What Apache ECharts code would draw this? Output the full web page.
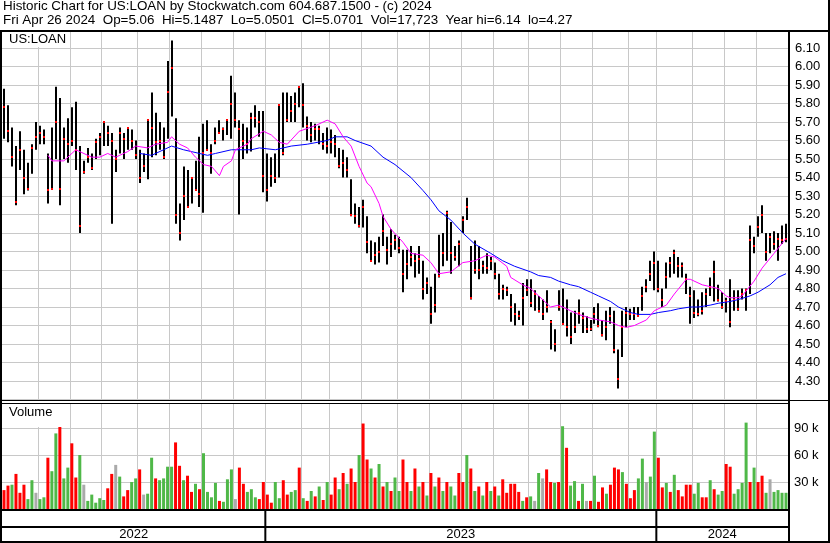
<!DOCTYPE html>
<html>
<head>
<meta charset="utf-8">
<script src="https://cdn.jsdelivr.net/npm/echarts@6/dist/echarts.min.js"></script>
<style>
html, body { margin: 0; padding: 0; background: #fff; }
#chart { width: 830px; height: 543px; }
</style>
</head>
<body>
<div id="chart"></div>
<script>
// daily bars, thinned to one bar per ~2.6 trading days (May 2022 - Apr 26 2024)
var highs = [
5.88,5.79,5.67,5.57,5.65,5.55,5.48,5.58,5.70,5.68,
5.66,5.53,5.67,5.89,5.83,5.67,5.72,5.78,5.81,5.57,
5.49,5.56,5.53,5.61,5.64,5.70,5.68,5.64,5.55,5.67,
5.64,5.67,5.66,5.60,5.55,5.53,5.71,5.86,5.75,5.70,
5.67,6.03,6.14,5.72,5.26,5.46,5.44,5.40,5.49,5.62,
5.69,5.71,5.58,5.67,5.71,5.67,5.71,5.95,5.86,5.71,
5.69,5.67,5.75,5.79,5.76,5.76,5.53,5.51,5.53,5.79,
5.86,5.86,5.84,5.86,5.89,5.91,5.73,5.70,5.69,5.68,
5.64,5.67,5.66,5.63,5.56,5.55,5.51,5.39,5.26,5.24,
5.28,5.19,5.06,5.05,5.08,5.20,5.08,5.12,5.09,5.08,
5.01,5.01,5.03,4.99,5.03,4.95,4.86,4.81,4.88,5.09,
5.10,5.22,5.16,5.03,5.06,5.19,5.29,5.03,5.06,5.03,
4.95,4.99,4.97,4.94,4.88,4.82,4.81,4.77,4.72,4.68,
4.83,4.85,4.85,4.79,4.76,4.74,4.79,4.63,4.58,4.79,
4.80,4.74,4.67,4.68,4.74,4.67,4.65,4.63,4.70,4.72,
4.63,4.68,4.70,4.68,4.47,4.68,4.70,4.69,4.70,4.70,
4.81,4.85,4.95,5.00,4.95,4.80,4.94,4.97,5.01,4.97,
4.94,4.88,4.81,4.79,4.74,4.78,4.80,4.86,4.95,4.82,
4.78,4.75,4.85,4.79,4.79,4.80,4.80,5.14,5.08,5.19,
5.25,5.10,5.10,5.11,5.10,5.14,5.15
];
var lows = [
5.61,5.59,5.46,5.25,5.44,5.31,5.33,5.42,5.55,5.58,
5.58,5.26,5.34,5.50,5.25,5.50,5.48,5.57,5.44,5.10,
5.42,5.48,5.44,5.50,5.52,5.57,5.57,5.15,5.43,5.53,
5.50,5.55,5.55,5.50,5.37,5.43,5.39,5.51,5.52,5.55,
5.50,5.61,5.73,5.15,5.06,5.17,5.24,5.26,5.33,5.24,
5.21,5.55,5.42,5.58,5.64,5.60,5.63,5.61,5.67,5.20,
5.50,5.53,5.54,5.67,5.62,5.32,5.27,5.35,5.37,5.40,
5.52,5.70,5.70,5.70,5.78,5.67,5.60,5.59,5.60,5.58,
5.55,5.53,5.53,5.51,5.45,5.40,5.40,5.19,5.15,5.13,
5.13,4.99,4.95,4.93,4.94,5.03,4.93,4.97,5.01,4.99,
4.78,4.85,4.92,4.86,4.88,4.74,4.77,4.61,4.67,4.86,
4.92,4.95,4.88,4.95,4.92,5.10,5.17,4.74,4.88,4.85,
4.88,4.88,4.90,4.85,4.74,4.74,4.76,4.62,4.60,4.63,
4.60,4.76,4.70,4.68,4.67,4.63,4.67,4.47,4.46,4.68,
4.61,4.54,4.50,4.56,4.61,4.56,4.56,4.57,4.61,4.59,
4.54,4.52,4.61,4.45,4.26,4.43,4.59,4.63,4.63,4.65,
4.68,4.78,4.84,4.79,4.78,4.70,4.80,4.86,4.88,4.86,
4.86,4.77,4.61,4.64,4.65,4.66,4.70,4.76,4.73,4.73,
4.69,4.67,4.59,4.68,4.68,4.74,4.68,4.77,4.99,5.08,
5.10,4.95,4.99,5.01,4.95,5.04,5.05
];
var closes = [
5.78,5.65,5.51,5.27,5.55,5.40,5.34,5.56,5.62,5.64,
5.62,5.33,5.34,5.70,5.34,5.61,5.58,5.60,5.55,5.14,
5.43,5.51,5.45,5.59,5.62,5.70,5.64,5.60,5.50,5.64,
5.61,5.67,5.60,5.52,5.40,5.46,5.71,5.67,5.59,5.60,
5.51,5.86,5.99,5.20,5.10,5.30,5.24,5.40,5.33,5.31,
5.53,5.55,5.53,5.60,5.64,5.66,5.71,5.80,5.71,5.66,
5.60,5.58,5.72,5.72,5.70,5.41,5.33,5.41,5.40,5.79,
5.53,5.71,5.76,5.80,5.89,5.79,5.68,5.63,5.66,5.66,
5.58,5.57,5.59,5.58,5.46,5.48,5.44,5.20,5.19,5.14,
5.24,5.05,4.95,4.98,5.00,5.11,5.01,5.04,5.06,5.02,
4.88,4.93,4.97,4.95,4.96,4.80,4.83,4.66,4.71,4.87,
4.99,5.21,4.99,4.97,5.04,5.17,5.24,4.75,4.90,4.90,
4.92,4.91,4.95,4.88,4.77,4.80,4.79,4.70,4.66,4.65,
4.75,4.79,4.72,4.77,4.68,4.66,4.70,4.62,4.50,4.70,
4.61,4.59,4.54,4.59,4.67,4.64,4.58,4.58,4.66,4.60,
4.55,4.59,4.65,4.47,4.31,4.59,4.67,4.66,4.66,4.65,
4.76,4.81,4.88,4.94,4.80,4.74,4.86,4.94,4.99,4.92,
4.92,4.85,4.76,4.67,4.66,4.68,4.77,4.81,4.89,4.74,
4.70,4.73,4.62,4.74,4.69,4.77,4.79,5.06,5.03,5.13,
5.20,5.00,5.08,5.04,5.07,5.06,5.07
];
// volume in thousands
var volumes = [
21,26,27,39,18,27,11,32,18,11,
13,57,42,84,102,34,46,73,35,60,
27,9,16,7,12,10,23,39,49,36,
14,21,30,34,44,16,17,57,34,32,
34,47,47,74,48,32,37,19,28,22,
62,19,13,29,9,8,33,44,11,46,
28,19,22,13,11,30,16,7,30,12,
32,16,19,21,46,12,9,20,14,25,
10,30,16,35,22,40,28,45,30,60,
95,55,45,35,50,25,30,20,35,20,
55,30,20,45,25,30,15,40,25,35,
20,30,25,15,40,30,60,45,20,25,
15,30,20,25,15,33,18,28,28,19,
9,13,14,9,40,34,44,30,29,30,
92,68,26,31,9,28,9,9,37,8,
24,17,27,46,44,41,28,12,21,34,
56,30,36,86,57,24,29,19,38,21,
14,27,27,17,29,13,13,32,22,16,
20,50,47,17,22,29,96,30,46,30,
37,18,33,19,21,18,18
];
// g = up day, r = down day, n = unchanged
var volDir =
  "rrgrrrggng" + "grggrggrrg" + "ngggggrrng" + "rrggrnggrg" + "gggrrgrrgr" +
  "ggggrgggnr" + "rgggrrrrgg" + "rrggr" +
  "grgrgrgrrg" + "rgrrgrrgrg" + "rgrggrrgrg" + "rgrgrgrggr" + "rgrgrgrgrg" +
  "rrrrrgrgng" + "nrrgrgrggr" + "gnrgrrgrrr" + "grrrggnggr" + "rgrgrrrrgg" +
  "rrgrggrrgg" + "ggrgrrgngg" + "gg";

// moving averages: [bar, value]
var maShort = [
[11,5.52],[12,5.49],[15,5.49],[18,5.55],[21,5.52],[22,5.51],[24,5.51],[26,5.53],[28,5.51],[31,5.54],
[33,5.57],[36,5.56],[38,5.58],[41,5.59],[42,5.62],[44,5.58],[46,5.56],[48,5.51],[50,5.47],[52,5.46],
[54,5.41],[55,5.46],[57,5.49],[58,5.55],[61,5.58],[62,5.61],[65,5.65],[67,5.63],[69,5.59],[71,5.58],
[74,5.65],[78,5.68],[81,5.71],[83,5.69],[85,5.62],[87,5.57],[89,5.46],[91,5.37],[92,5.35],[94,5.26],
[95,5.19],[97,5.12],[100,5.05],[102,4.99],[105,4.98],[107,4.94],[109,4.88],[112,4.89],[115,4.94],[118,4.95],
[121,4.98],[123,4.97],[126,4.92],[127,4.86],[130,4.82],[132,4.80],[134,4.76],[137,4.70],[139,4.71],[142,4.68],
[144,4.66],[147,4.64],[149,4.63],[152,4.62],[154,4.60],[156,4.59],[158,4.60],[161,4.63],[163,4.68],[166,4.71],
[168,4.77],[171,4.85],[172,4.85],[175,4.82],[177,4.81],[179,4.80],[181,4.76],[182,4.75],[184,4.75],[185,4.76],
[188,4.84],[190,4.91],[193,4.99],[196,5.07]
];
var maLong = [
[34,5.53],[37,5.52],[40,5.55],[42,5.57],[45,5.55],[47,5.54],[51,5.52],[53,5.53],[57,5.55],[62,5.55],
[64,5.56],[68,5.55],[72,5.57],[76,5.58],[81,5.60],[83,5.62],[86,5.62],[88,5.60],[92,5.57],[95,5.51],
[98,5.47],[102,5.40],[105,5.33],[107,5.28],[109,5.22],[112,5.17],[115,5.10],[118,5.04],[122,4.99],[125,4.95],
[128,4.92],[132,4.89],[134,4.87],[137,4.86],[139,4.84],[142,4.82],[144,4.81],[147,4.78],[149,4.76],[152,4.73],
[154,4.70],[157,4.67],[159,4.66],[162,4.66],[164,4.67],[167,4.68],[169,4.69],[172,4.70],[174,4.70],[177,4.71],
[179,4.72],[182,4.73],[184,4.74],[187,4.76],[189,4.78],[192,4.82],[194,4.86],[196,4.88]
];

// first bar of each month (Jun 2022 .. Apr 2024)
var monthStartBar = [9,17,25,34,42,50,58,66,75,82,90,99,107,115,123,132,140,148,157,164,173,181,189];
var years = ['2022', '2023', '2024'];
var yearStartBar = [0, 66, 164];

var titleLine1 = 'Historic Chart for US:LOAN by Stockwatch.com 604.687.1500 - (c) 2024';
var titleLine2 = 'Fri Apr 26 2024  Op=5.06  Hi=5.1487  Lo=5.0501  Cl=5.0701  Vol=17,723  Year hi=6.14  lo=4.27';

var N = highs.length;
var cats = [];
var ohlc = [];
for (var i = 0; i < N; i++) {
	cats.push(i);
	ohlc.push([i, highs[i], lows[i], closes[i]]);
}
var dirColor = { g: '#4fb848', r: '#ff0000', n: '#aaaaaa' };
var volData = volumes.map(function (v, i) {
	return { value: v, itemStyle: { color: dirColor[volDir.charAt(i)] } };
});
var monthSet = {};
monthStartBar.forEach(function (m) { monthSet[m] = true; });
var yearSpans = years.map(function (y, i) {
	return [yearStartBar[i], i + 1 < years.length ? yearStartBar[i + 1] : N];
});

var font13 = '13px "Liberation Sans", Arial, sans-serif';
var fontHead = '13.4px "Liberation Sans", Arial, sans-serif';
var gridColor = '#c8c8c8';

function renderBar(params, api) {
	var x = api.value(0);
	var top = api.coord([x, api.value(1)]);
	var bot = api.coord([x, api.value(2)]);
	var cl = api.coord([x, api.value(3)]);
	var left = Math.round(top[0] - 1);
	return {
		type: 'group',
		children: [
			{ type: 'rect', shape: { x: left, y: top[1], width: 2, height: Math.max(bot[1] - top[1], 1) }, style: { fill: '#000' } },
			{ type: 'rect', shape: { x: left, y: Math.round(cl[1] - 1), width: 2, height: 2 }, style: { fill: '#ff0000' } }
		]
	};
}

function renderYear(params, api) {
	var s = api.value(0), e = api.value(1);
	var band = api.size([1, 0])[0];
	var x0 = api.coord([s, 0])[0] - band / 2;
	var x1 = api.coord([e - 1, 0])[0] + band / 2;
	var cs = params.coordSys;
	var kids = [];
	if (s > 0) {
		kids.push({ type: 'rect', shape: { x: x0 - 1, y: cs.y, width: 2, height: cs.height }, style: { fill: '#000' } });
	}
	kids.push({
		type: 'text',
		style: { text: years[params.dataIndex], x: (x0 + x1) / 2, y: cs.y + 23.5, align: 'center', verticalAlign: 'middle', font: font13, fill: '#000' }
	});
	return { type: 'group', children: kids };
}

var monthSplit = {
	show: true,
	interval: function (index) { return monthSet[index] === true; },
	lineStyle: { color: gridColor, width: 1 }
};

function hiddenX(grid, split) {
	return {
		type: 'category', gridIndex: grid, data: cats, boundaryGap: true,
		axisLine: { show: false }, axisTick: { show: false }, axisLabel: { show: false },
		splitLine: split ? monthSplit : { show: false }
	};
}

// frame lines [x, y, w, h]
var frame = [
	[0, 30, 830, 2], [0, 30, 2, 513], [788, 30, 2, 513], [828, 0, 2, 543],
	[0, 400, 788, 1], [0, 403, 788, 1], [790, 400, 38, 1],
	[0, 509, 790, 2], [0, 526, 790, 2], [0, 541, 830, 2]
];
var graphics = [
	{ type: 'rect', shape: { x: 2, y: 32, width: 66, height: 15 }, style: { fill: '#fff' }, z: 90 },
	{ type: 'rect', shape: { x: 2, y: 404, width: 66, height: 23 }, style: { fill: '#fff' }, z: 90 },
	{ type: 'text', x: 3, y: 0, style: { text: titleLine1, font: fontHead, fill: '#000', verticalAlign: 'top' }, z: 100 },
	{ type: 'text', x: 3, y: 14, style: { text: titleLine2, font: fontHead, fill: '#000', verticalAlign: 'top' }, z: 100 },
	{ type: 'text', x: 9, y: 33, style: { text: 'US:LOAN', font: font13, fill: '#000', verticalAlign: 'top' }, z: 100 },
	{ type: 'text', x: 9, y: 406, style: { text: 'Volume', font: font13, fill: '#000', verticalAlign: 'top' }, z: 100 }
];
frame.forEach(function (f) {
	graphics.push({ type: 'rect', shape: { x: f[0], y: f[1], width: f[2], height: f[3] }, style: { fill: '#000' }, z: 100 });
});

var chart = echarts.init(document.getElementById('chart'), null, { renderer: 'canvas' });
var option = {
	animation: false,
	backgroundColor: '#fff',
	grid: [
		{ left: 2, top: 31, width: 786, height: 368.5 },
		{ left: 2, top: 403, width: 786, height: 106 },
		{ left: 2, top: 511, width: 786, height: 30 }
	],
	xAxis: [hiddenX(0, true), hiddenX(1, true), hiddenX(2, false)],
	yAxis: [
		{
			type: 'value', gridIndex: 0, position: 'right', min: 4.2, max: 6.192, interval: 0.1,
			axisLine: { show: false }, axisTick: { show: false },
			axisLabel: {
				margin: 7, color: '#000', fontSize: 13, fontFamily: 'Liberation Sans',
				formatter: function (v) {
					var r = Math.round(v * 10) / 10;
					return (Math.abs(v - r) < 1e-6 && r > 4.25 && r < 6.15) ? r.toFixed(2) : '';
				}
			},
			splitLine: { lineStyle: { color: gridColor, width: 1 } }
		},
		{
			type: 'value', gridIndex: 1, position: 'right', min: 0, max: 117.8, interval: 30,
			axisLine: { show: false }, axisTick: { show: false },
			axisLabel: {
				margin: 6, color: '#000', fontSize: 13, fontFamily: 'Liberation Sans',
				formatter: function (v) { return (v > 0 && v < 100 && v % 30 === 0) ? v + ' k' : ''; }
			},
			splitLine: { lineStyle: { color: gridColor, width: 1 } }
		},
		{ type: 'value', gridIndex: 2, min: 0, max: 1, show: false }
	],
	series: [
		{
			type: 'custom', xAxisIndex: 0, yAxisIndex: 0, data: ohlc,
			encode: { x: 0, y: [1, 2, 3] }, renderItem: renderBar, clip: true, z: 3
		},
		{
			type: 'line', xAxisIndex: 0, yAxisIndex: 0, data: maLong, symbol: 'none',
			lineStyle: { color: '#0000ff', width: 1 }, z: 4
		},
		{
			type: 'line', xAxisIndex: 0, yAxisIndex: 0, data: maShort, symbol: 'none',
			lineStyle: { color: '#ff00ff', width: 1 }, z: 5
		},
		{
			type: 'bar', xAxisIndex: 1, yAxisIndex: 1, data: volData, barWidth: 3, z: 3
		},
		{
			type: 'custom', xAxisIndex: 2, yAxisIndex: 2, data: yearSpans,
			encode: { x: 0 }, renderItem: renderYear, clip: false, z: 5
		}
	],
	graphic: graphics
};
chart.setOption(option);
</script>
</body>
</html>
